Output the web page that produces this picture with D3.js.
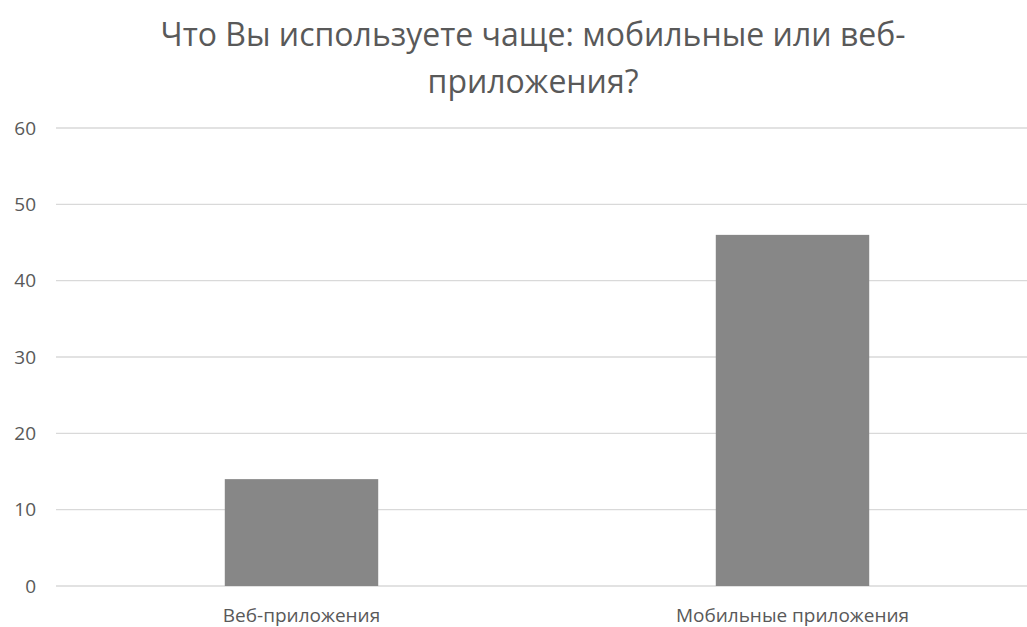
<!DOCTYPE html>
<html lang="ru">
<head>
<meta charset="utf-8">
<script src="https://cdn.jsdelivr.net/npm/d3@7"></script>
<style>
  html, body { margin: 0; padding: 0; background: #fff; }
  svg { display: block; font-family: "Open Sans", "Noto Sans", sans-serif; }
</style>
</head>
<body>
<svg id="chart" width="1027" height="627"></svg>
<script>
// Survey answers: which kind of application is used more often
const categories = ["Веб-приложения", "Мобильные приложения"];
const values = [14, 46];
const yTicks = [0, 10, 20, 30, 40, 50, 60];
const titleLines = ["Что Вы используете чаще: мобильные или веб-", "приложения?"];

const svg = d3.select("#chart");

// Plot area (the right edge runs past the visible canvas)
const plot = { left: 56, right: 1038, top: 128, bottom: 586 };

const x = d3.scaleBand()
  .domain(categories)
  .range([plot.left, plot.right])
  .paddingInner(0.6875)
  .paddingOuter(0.6875 / 2)
  .align(0.5);

const y = d3.scaleLinear()
  .domain([0, 60])
  .range([plot.bottom, plot.top]);

// Horizontal gridlines
svg.append("g")
  .selectAll("line")
  .data(yTicks)
  .join("line")
  .attr("x1", plot.left)
  .attr("x2", plot.right)
  .attr("y1", d => y(d))
  .attr("y2", d => y(d))
  .attr("stroke", "#d9d9d9")
  .attr("stroke-width", 1.3);

// Y axis labels
const yAxis = d3.axisLeft(y).tickValues(yTicks).tickSize(0).tickPadding(0);
svg.append("g")
  .attr("transform", `translate(${36},0)`)
  .call(yAxis)
  .call(g => g.select(".domain").remove())
  .call(g => g.selectAll("text")
    .attr("fill", "#595959")
    .attr("font-size", 19)
    .attr("font-family", "Open Sans, sans-serif"));

// Bars
svg.append("g")
  .selectAll("rect")
  .data(categories.map((c, i) => ({ c, v: values[i] })))
  .join("rect")
  .attr("x", d => x(d.c))
  .attr("width", x.bandwidth())
  .attr("y", d => y(d.v))
  .attr("height", d => y(0) - y(d.v))
  .attr("fill", "#878787");

// Category labels
const xAxis = d3.axisBottom(x).tickSize(0).tickPadding(0);
svg.append("g")
  .attr("transform", `translate(0,${plot.bottom + 22})`)
  .call(xAxis)
  .call(g => g.select(".domain").remove())
  .call(g => g.selectAll("text")
    .attr("fill", "#595959")
    .attr("font-size", 19)
    .attr("font-family", "Open Sans, sans-serif"));

// Title, two lines
svg.append("g")
  .selectAll("text")
  .data(titleLines)
  .join("text")
  .attr("x", 533)
  .attr("y", (d, i) => 46 + i * 47)
  .attr("text-anchor", "middle")
  .attr("fill", "#595959")
  .attr("font-size", 32)
  .text(d => d);
</script>
</body>
</html>
